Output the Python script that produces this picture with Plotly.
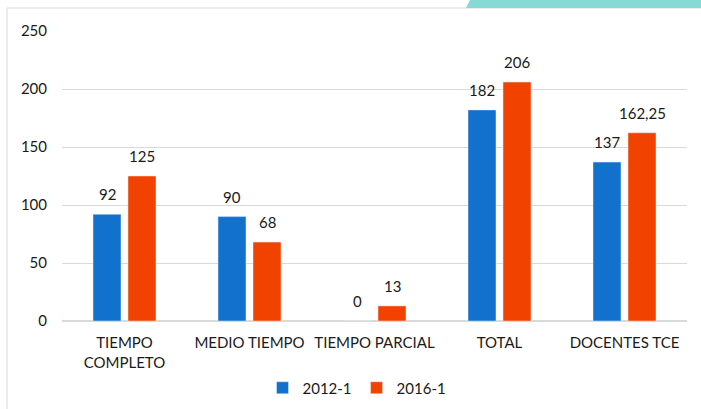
import plotly.graph_objects as go

categories = ["TIEMPO<br>COMPLETO", "MEDIO TIEMPO", "TIEMPO PARCIAL", "TOTAL", "DOCENTES TCE"]
series_2012 = [92, 90, 0, 182, 137]
series_2016 = [125, 68, 13, 206, 162.25]
labels_2012 = ["92", "90", "0", "182", "137"]
labels_2016 = ["125", "68", "13", "206", "162,25"]
y_ticks = [0, 50, 100, 150, 200, 250]

BLUE = "#1271CC"
ORANGE = "#F24200"
FONT = "Lato"
TXT = "#1a1a1a"

fig = go.Figure()
fig.add_trace(go.Bar(name="2012-1", x=categories, y=series_2012, marker_color=BLUE))
fig.add_trace(go.Bar(name="2016-1", x=categories, y=series_2016, marker_color=ORANGE))

# data labels as annotations above bars
for cat, v, t in zip(categories, series_2012, labels_2012):
    fig.add_annotation(x=cat, y=v, text=t, showarrow=False, xshift=-17.5, yshift=20,
                       yanchor="middle", font=dict(size=15, family=FONT, color=TXT))
for cat, v, t in zip(categories, series_2016, labels_2016):
    fig.add_annotation(x=cat, y=v, text=t, showarrow=False, xshift=17.5, yshift=20,
                       yanchor="middle", font=dict(size=15, family=FONT, color=TXT))

L, R, T, B = 62, 14, 31, 88
W, H = 701, 409
pw, ph = W - L - R, H - T - B

def px(x):
    return (x - L) / pw

def py(y):
    return (H - B - y) / ph

fig.update_layout(
    width=W, height=H,
    margin=dict(l=L, r=R, t=T, b=B, autoexpand=False),
    paper_bgcolor="white", plot_bgcolor="white",
    barmode="group", bargap=0.44, bargroupgap=0.2,
    font=dict(family=FONT, size=15, color=TXT),
    showlegend=True,
    legend=dict(orientation="h", x=px(357), xanchor="center", y=py(388), yanchor="middle",
                itemwidth=30, font=dict(size=15, family=FONT, color=TXT)),
    xaxis=dict(showgrid=False, showline=True, linecolor="#D9D9D9", linewidth=1, automargin=False,
               tickfont=dict(size=15, family=FONT, color=TXT), ticks="", ticklabelstandoff=8),
    yaxis=dict(range=[0, 250], tickvals=y_ticks, showgrid=True, gridcolor="#D9D9D9", automargin=False,
               zeroline=True, zerolinecolor="#D9D9D9", ticks="", ticklabelstandoff=14,
               tickfont=dict(size=15, family=FONT, color=TXT)),
    shapes=[
        dict(type="rect", xref="paper", yref="paper", x0=px(7), x1=px(720), y0=py(8), y1=py(430),
             line=dict(color="#D9D9D9", width=1), fillcolor="rgba(0,0,0,0)", layer="below"),
        dict(type="path", xref="paper", yref="paper",
             path=f"M {px(466)},{py(8)} L {px(471)},{py(-2)} L {px(705)},{py(-2)} L {px(705)},{py(8)} Z",
             fillcolor="#86DAD6", line=dict(width=0), layer="above"),
    ],
)

fig.write_html("out.html", config={"displayModeBar": False},
               post_script="document.body.style.margin='0';document.body.style.overflow='hidden';")
